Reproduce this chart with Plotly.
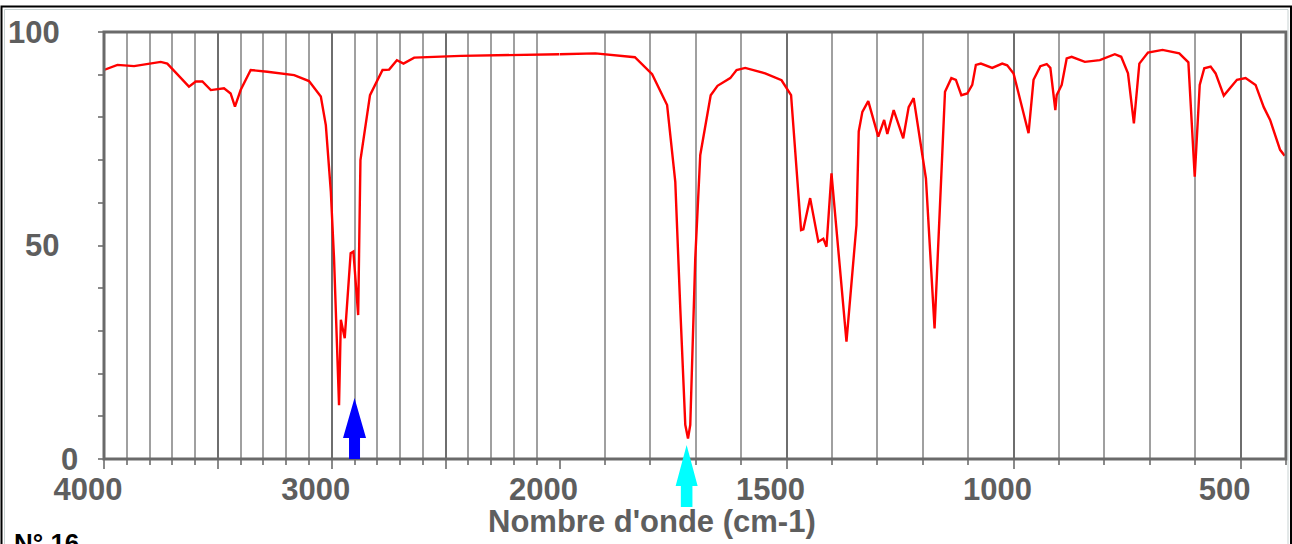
import plotly.graph_objects as go

# ---- data ----
wavenumber = [4000, 3941, 3868, 3751, 3722, 3627, 3597, 3568, 3531, 3473, 3444, 3425, 3400,
              3356, 3283, 3165, 3100, 3048, 3026, 3004, 2990, 2968, 2960, 2943, 2917, 2905,
              2884, 2874, 2832, 2777, 2748, 2714, 2685, 2638, 2433, 2000,
              1921, 1834, 1796, 1763, 1745, 1734, 1723, 1717, 1712, 1701, 1690, 1667, 1652,
              1624, 1610, 1591, 1547, 1511, 1490, 1468, 1463, 1448, 1430, 1419, 1412, 1401,
              1368, 1346, 1341, 1333, 1320, 1298, 1285, 1278, 1264, 1243, 1231, 1220, 1193,
              1174, 1164, 1151, 1137, 1127, 1115, 1102, 1091, 1083, 1072, 1047, 1025, 1014,
              1000, 967, 956, 941, 927, 919, 908, 905, 894, 883, 872, 843, 810, 777, 763,
              748, 735, 723, 704, 672, 635, 615, 601, 590, 580, 566, 555, 537, 508, 489,
              467, 449, 435, 413, 403]
transmittance = [91.1, 92.3, 92.0, 93.0, 92.6, 87.2, 88.4, 88.4, 86.4, 86.8, 85.6, 82.5, 86.4,
                 91.1, 90.7, 89.9, 88.5, 84.9, 78.2, 62.6, 47.0, 12.6, 32.6, 28.3, 48.2, 48.6,
                 33.7, 70.0, 85.2, 91.1, 91.2, 93.4, 92.6, 94.0, 94.4, 94.8,
                 95.0, 94.1, 90.1, 82.9, 64.9, 35.3, 8.0, 4.8, 8.0, 47.0, 71.2, 85.2, 87.4,
                 89.2, 91.1, 91.6, 90.3, 88.7, 85.2, 53.6, 53.8, 61.1, 50.9, 51.6, 49.7, 66.9,
                 27.5, 54.8, 76.7, 81.3, 83.8, 75.5, 79.4, 76.1, 81.7, 75.1, 82.4, 84.5, 65.7,
                 30.6, 53.2, 86.0, 89.2, 88.8, 85.2, 85.6, 87.6, 92.3, 92.6, 91.6, 92.6, 92.2,
                 90.3, 76.3, 88.8, 92.0, 92.5, 91.6, 81.7, 85.2, 87.6, 93.8, 94.2, 93.0, 93.4, 94.8, 94.2,
                 90.3, 78.6, 92.6, 95.2, 95.8, 95.0, 92.9, 66.1, 87.6, 91.5, 91.9, 90.3, 85.1, 88.8, 89.2,
                 87.6, 82.4, 79.4, 72.4, 71.0]

x_ticks_high = [4000, 3500, 3000, 2500]
x_text_high = ["4000", "", "3000", ""]
x_ticks_low = [2000, 1500, 1000, 500]
x_text_low = ["2000", "1500", "1000", "500"]
y_labels = [0, 50, 100]
arrow_blue_wn = 2900
arrow_cyan_wn = 1720
x_title = "Nombre d'onde (cm-1)"
corner_text = "N° 16"

# split at 2000 cm-1 (scale changes there)
hi = [(w, t) for w, t in zip(wavenumber, transmittance) if w >= 2000]
lo = [(w, t) for w, t in zip(wavenumber, transmittance) if w <= 2000]

FONT = "Liberation Sans, Arial, sans-serif"
LBL = "#5e5e5e"
MINOR_GRID = "#a0a0a0"
MAJOR_GRID = "#6e6e6e"

fig = go.Figure()
line = dict(color="#ff0000", width=2.4)
fig.add_trace(go.Scatter(x=[p[0] for p in hi], y=[p[1] for p in hi], mode="lines",
                         line=line, xaxis="x", yaxis="y", showlegend=False))
fig.add_trace(go.Scatter(x=[p[0] for p in lo], y=[p[1] for p in lo], mode="lines",
                         line=line, xaxis="x2", yaxis="y", showlegend=False))

L, R, T, B = 104, 6, 32, 85
W, H = 1292, 544
split = 455.5 / (W - L - R)

xcommon = dict(
    showline=False, zeroline=False, ticks="outside", ticklen=9, tickwidth=1.5,
    tickcolor="#8a8a8a", showgrid=True, gridcolor=MAJOR_GRID, gridwidth=2,
    tickfont=dict(family=FONT, size=31, color=LBL, weight="bold"),
    ticklabelshift=16, ticklabelstandoff=-6,
    minor=dict(tickmode="linear", tick0=0, dtick=100, ticks="outside", ticklen=5,
               tickwidth=1.5, tickcolor="#8a8a8a", showgrid=True,
               gridcolor=MINOR_GRID, gridwidth=1.5),
    anchor="y",
)

fig.update_layout(
    width=W, height=H,
    margin=dict(l=L, r=R, t=T, b=B),
    paper_bgcolor="white", plot_bgcolor="white",
    xaxis=dict(domain=[0, split], range=[4000, 2000], tickmode="array",
               tickvals=x_ticks_high, ticktext=x_text_high, **xcommon),
    xaxis2=dict(domain=[split, 1], range=[2000, 400], tickmode="array",
                tickvals=x_ticks_low, ticktext=x_text_low, **xcommon),
    yaxis=dict(range=[0, 100], anchor="x", showgrid=False, zeroline=False,
               showline=False, ticks="outside", ticklen=5, tickwidth=1.5,
               tickcolor="#8a8a8a", tickmode="linear", tick0=0, dtick=10,
               showticklabels=False),
)

# plot-area frame
fig.add_shape(type="rect", xref="paper", yref="paper", x0=0, x1=1, y0=0, y1=1,
              line=dict(color="#6a6a6a", width=3), layer="above")

# outer picture frame
fig.add_shape(type="rect", xref="paper", yref="paper", xsizemode="pixel", ysizemode="pixel",
              xanchor=0, yanchor=0, x0=-102.5, x1=1187, y0=-200, y1=452.5,
              line=dict(color="#000000", width=2), layer="above")
fig.add_shape(type="rect", xref="paper", yref="paper", xsizemode="pixel", ysizemode="pixel",
              xanchor=0, yanchor=0, x0=-99.5, x1=1184, y0=-200, y1=449.5,
              line=dict(color="#c8d2d2", width=1), layer="above")

# arrows
fig.add_shape(type="path", xref="x", yref="paper", xsizemode="pixel", ysizemode="pixel",
              xanchor=arrow_blue_wn, yanchor=0,
              path="M -5.5,0 L -5.5,21 L -11.5,21 L 0,61 L 11.5,21 L 5.5,21 L 5.5,0 Z",
              fillcolor="#0000ff", line=dict(width=0), layer="above")
fig.add_shape(type="path", xref="x2", yref="paper", xsizemode="pixel", ysizemode="pixel",
              xanchor=arrow_cyan_wn, yanchor=0,
              path="M -5.8,-48 L -5.8,-27 L -11,-27 L 0,14 L 11,-27 L 5.8,-27 L 5.8,-48 Z",
              fillcolor="#00ffff", line=dict(width=0), layer="above")

# y labels
yshift_x = {0: -24, 50: -43, 100: -42}
for v in y_labels:
    fig.add_annotation(x=0, xref="paper", y=v, yref="y", text=str(v), showarrow=False,
                       xanchor="right", yanchor="middle", xshift=yshift_x[v],
                       font=dict(family=FONT, size=31, color=LBL, weight="bold"))

# axis title
fig.add_annotation(x=0, xref="paper", y=0, yref="paper", text=x_title, showarrow=False,
                   xanchor="center", yanchor="middle", xshift=548, yshift=-62,
                   font=dict(family=FONT, size=31, color=LBL, weight="bold"))

# corner label
fig.add_annotation(x=0, xref="paper", y=0, yref="paper", text=corner_text, showarrow=False,
                   xanchor="left", yanchor="top", xshift=-92, yshift=-67,
                   font=dict(family=FONT, size=26, color="#000000", weight="bold"))

fig.write_html("out.html")
